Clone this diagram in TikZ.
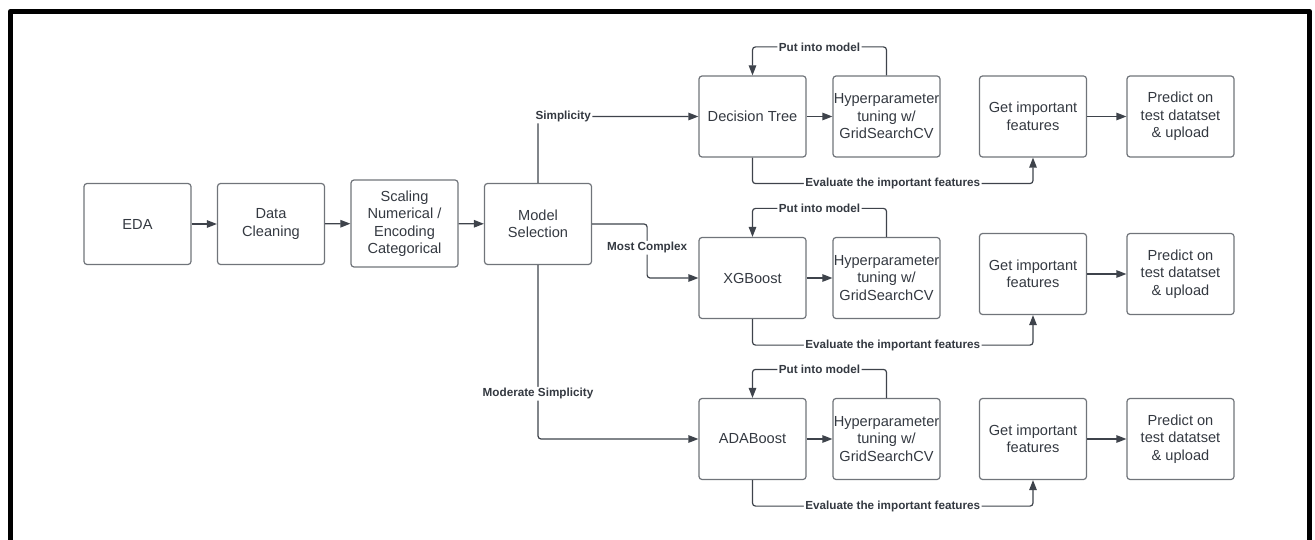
\documentclass[tikz,border=0pt]{standalone}
\usepackage{fontspec}
\setmainfont{Liberation Sans}
\usetikzlibrary{arrows.meta}
\definecolor{cbox}{RGB}{112,116,122}
\definecolor{cwire}{RGB}{62,67,75}
\definecolor{ctext}{RGB}{52,57,65}
\tikzset{flowpic/.style={x=1pt,y=-1pt,line join=round}}
\tikzset{stage/.style={draw=cbox,line width=1.2pt,rounded corners=3pt,text=ctext,align=center,
           inner sep=0pt,minimum width=107pt,minimum height=81pt,font=\fontsize{14.6}{17.5}\selectfont},
         wire/.style={draw=cwire,line width=1.2pt,rounded corners=3pt,-{Triangle[length=10pt,width=7.5pt]}},
         tag/.style={fill=white,text=ctext,inner sep=1.5pt,font=\bfseries\fontsize{11.7}{13}\selectfont}}

\begin{document}
\begin{tikzpicture}[flowpic]
    \useasboundingbox (0,0) rectangle (1315,540);
    \draw[line width=5.5pt] (10.5,545) -- (10.5,11.5) -- (1309.5,11.5) -- (1309.5,545);   % frame, open at the bottom
    % preprocessing chain
    \node[stage] (eda)   at (137.5,224) {EDA};
    \node[stage] (clean) at (271,224)   {Data\\Cleaning};
    \node[stage,minimum height=87pt] (scale) at (404.5,223.5) {Scaling\\Numerical /\\Encoding\\Categorical};
    \node[stage] (msel)  at (538,224)   {Model\\Selection};
    \draw[wire] (eda) -- (clean);
    \draw[wire] (clean) -- (scale);
    \draw[wire] (scale) -- (msel);
    % one row per model
    \foreach \i/\mdl/\y/\yr in {1/Decision Tree/116.5/116.5, 2/XGBoost/278/274, 3/ADABoost/439/439} {
      \node[stage] (m\i) at (752.5,\y)  {\mdl};
      \node[stage] (h\i) at (886.5,\y)  {Hyperparameter\\tuning w/\\GridSearchCV};
      \node[stage] (g\i) at (1033,\yr)  {Get important\\features};
      \node[stage] (p\i) at (1180.5,\yr) {Predict on\\test datatset\\\& upload};
      \draw[wire] (m\i) -- (h\i);
      \draw[wire] (g\i) -- (p\i);
      \draw[wire] (h\i.north) -- ++(0,-28.5) -| node[tag,pos=0.25] {Put into model} (m\i.north);
      \draw[wire] (m\i.south) -- ++(0,26) -| node[tag,pos=0.25] {Evaluate the important features} (g\i.south);
    }
    % branches out of model selection
    \draw[wire] (msel.north) |- node[tag,pos=0.5,anchor=west,xshift=-4.5pt] {Simplicity} (m1.west);
    \draw[wire] (msel.east) -- ++(55,0) |- node[tag,pos=0.22] {Most Complex} (m2.west);
    \draw[wire] (msel.south) |- node[tag,pos=0.37] {Moderate Simplicity} (m3.west);
  \end{tikzpicture}
\end{document}
